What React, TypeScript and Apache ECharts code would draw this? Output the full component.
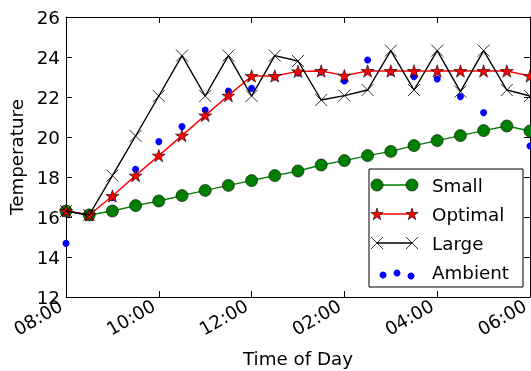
import React, { useEffect, useRef } from "react";
import * as echarts from "echarts";

const times = [
  "08:00", "08:30", "09:00", "09:30", "10:00", "10:30", "11:00", "11:30",
  "12:00", "12:30", "13:00", "13:30", "14:00", "14:30", "15:00", "15:30",
  "16:00", "16:30", "17:00", "17:30", "18:00",
];
const small = [16.3, 16.1, 16.3, 16.57, 16.8, 17.07, 17.33, 17.58, 17.82, 18.07, 18.3, 18.6, 18.82, 19.07, 19.28, 19.57, 19.82, 20.07, 20.32, 20.55, 20.3];
const optimal = [16.3, 16.1, 17.05, 18.07, 19.07, 20.07, 21.08, 22.07, 23.05, 23.05, 23.28, 23.3, 23.07, 23.3, 23.3, 23.3, 23.3, 23.3, 23.3, 23.3, 23.05];
const large = [16.3, 16.1, 18.07, 20.05, 22.05, 24.07, 22.05, 24.07, 22.05, 24.07, 23.8, 21.85, 22.07, 22.35, 24.32, 22.35, 24.32, 22.27, 24.32, 22.35, 22.05];
const ambient = [14.68, 16.1, 16.98, 18.38, 19.77, 20.52, 21.35, 22.3, 22.43, 23.0, 23.2, 23.25, 22.8, 23.85, 23.25, 23.02, 22.9, 22.02, 21.22, 20.48, 19.55];
const xTickLabels = ["08:00", "10:00", "12:00", "02:00", "04:00", "06:00"];
const seriesNames = ["Small", "Optimal", "Large", "Ambient"];

const FONT = "DejaVu Sans";
const FS = 18.3;

function toMinutes(t: string): number {
  const [h, m] = t.split(":").map(Number);
  return (h - 8) * 60 + m;
}
function pairs(vals: number[]) {
  return vals.map((v, i) => [toMinutes(times[i]), v]);
}

const STAR_PATH =
  "path://M100,0L122.45,69.1L195.1,69.1L136.3,111.8L158.8,180.9L100,138.2L41.2,180.9L63.7,111.8L4.9,69.1L77.55,69.1Z";
const X_PATH = "path://M0,0L10,10M0,10L10,0";

function starPoints(cx: number, cy: number, r: number): number[][] {
  const pts: number[][] = [];
  for (let k = 0; k < 10; k++) {
    const rr = k % 2 === 0 ? r : r * 0.382;
    const a = ((-90 + 36 * k) * Math.PI) / 180;
    pts.push([cx + rr * Math.cos(a), cy + rr * Math.sin(a)]);
  }
  return pts;
}

export default function App() {
  const ref = useRef<HTMLDivElement>(null);
  useEffect(() => {
    if (!ref.current) return;
    const chart = echarts.init(ref.current, null, { renderer: "svg" });

    const lx = 369, ly = 169, lw = 154, lh = 118;
    const rows = [185, 214, 243, 272];
    const x1 = 377, x2 = 412, tx = 432;
    const legendChildren: any[] = [
      { type: "rect", shape: { x: lx, y: ly, width: lw, height: lh }, style: { fill: "#fff", stroke: "#000", lineWidth: 1 } },
      // Small
      { type: "line", shape: { x1, y1: rows[0], x2, y2: rows[0] }, style: { stroke: "#008000", lineWidth: 1.4 } },
      { type: "circle", shape: { cx: x1, cy: rows[0], r: 6 }, style: { fill: "#008000", stroke: "#000", lineWidth: 0.6 } },
      { type: "circle", shape: { cx: x2, cy: rows[0], r: 6 }, style: { fill: "#008000", stroke: "#000", lineWidth: 0.6 } },
      // Optimal
      { type: "line", shape: { x1, y1: rows[1], x2, y2: rows[1] }, style: { stroke: "#ff0000", lineWidth: 1.4 } },
      { type: "polygon", shape: { points: starPoints(x1, rows[1] + 0.5, 6.5) }, style: { fill: "#ff0000", stroke: "#000", lineWidth: 0.6 } },
      { type: "polygon", shape: { points: starPoints(x2, rows[1] + 0.5, 6.5) }, style: { fill: "#ff0000", stroke: "#000", lineWidth: 0.6 } },
      // Large
      { type: "line", shape: { x1, y1: rows[2], x2, y2: rows[2] }, style: { stroke: "#000", lineWidth: 1.4 } },
      ...[x1, x2].flatMap((cx) => [
        { type: "line", shape: { x1: cx - 6, y1: rows[2] - 6, x2: cx + 6, y2: rows[2] + 6 }, style: { stroke: "#000", lineWidth: 0.8 } },
        { type: "line", shape: { x1: cx - 6, y1: rows[2] + 6, x2: cx + 6, y2: rows[2] - 6 }, style: { stroke: "#000", lineWidth: 0.8 } },
      ]),
      // Ambient
      { type: "circle", shape: { cx: 383, cy: rows[3] + 3, r: 3.5 }, style: { fill: "#0000ff" } },
      { type: "circle", shape: { cx: 397, cy: rows[3] + 1, r: 3.5 }, style: { fill: "#0000ff" } },
      { type: "circle", shape: { cx: 411, cy: rows[3] + 4, r: 3.5 }, style: { fill: "#0000ff" } },
      ...seriesNames.map((n, i) => ({
        type: "text",
        x: tx,
        y: rows[i],
        style: { text: n, fill: "#000", font: `${FS}px "${FONT}"`, verticalAlign: "middle" },
      })),
    ];

    const tickStyle = { show: true, inside: true, length: 6, lineStyle: { color: "#000", width: 1 } };
    const axisLine = { show: true, onZero: false, lineStyle: { color: "#000", width: 1 } };

    chart.setOption({
      animation: false,
      grid: { left: 66, right: 1, top: 17, bottom: 74, containLabel: false, outerBoundsMode: "none" },
      xAxis: [
        {
          type: "value",
          min: 0,
          max: 600,
          interval: 120,
          axisLine,
          axisTick: tickStyle,
          splitLine: { show: false },
          axisLabel: {
            rotate: 30,
            margin: 4,
            padding: [0, 6, 0, 0],
            color: "#000",
            fontFamily: FONT,
            fontSize: FS,
            formatter: (v: number) => xTickLabels[Math.round(v / 120)] ?? "",
          },
          name: "Time of Day",
          nameLocation: "middle",
          nameGap: 52,
          nameTextStyle: { color: "#000", fontFamily: FONT, fontSize: FS },
        },
        {
          type: "value",
          position: "top",
          min: 0,
          max: 600,
          interval: 120,
          axisLine,
          axisTick: tickStyle,
          splitLine: { show: false },
          axisLabel: { show: false },
        },
      ],
      yAxis: [
        {
          type: "value",
          min: 12,
          max: 26,
          interval: 2,
          axisLine,
          axisTick: tickStyle,
          splitLine: { show: false },
          axisLabel: { color: "#000", fontFamily: FONT, fontSize: FS, margin: 6 },
          name: "Temperature",
          nameLocation: "middle",
          nameRotate: 90,
          nameGap: 38,
          nameTextStyle: { color: "#000", fontFamily: FONT, fontSize: FS },
        },
        {
          type: "value",
          position: "right",
          min: 12,
          max: 26,
          interval: 2,
          axisLine,
          axisTick: tickStyle,
          splitLine: { show: false },
          axisLabel: { show: false },
        },
      ],
      series: [
        {
          name: "Ambient",
          type: "scatter",
          data: pairs(ambient),
          symbol: "circle",
          symbolSize: 7,
          itemStyle: { color: "#0000ff", opacity: 1 },
          z: 1,
          silent: true,
        },
        {
          name: "Small",
          type: "line",
          data: pairs(small),
          symbol: "circle",
          symbolSize: 12,
          showAllSymbol: true,
          lineStyle: { color: "#008000", width: 1.4 },
          itemStyle: { color: "#008000", borderColor: "#000", borderWidth: 0.6 },
          z: 2,
          silent: true,
        },
        {
          name: "Optimal",
          type: "line",
          data: pairs(optimal),
          symbol: STAR_PATH,
          symbolKeepAspect: true,
          symbolSize: 13,
          showAllSymbol: true,
          lineStyle: { color: "#ff0000", width: 1.4 },
          itemStyle: { color: "#ff0000", borderColor: "#000", borderWidth: 0.6 },
          z: 3,
          silent: true,
        },
        {
          name: "Large",
          type: "line",
          data: pairs(large),
          symbol: X_PATH,
          symbolSize: 12,
          showAllSymbol: true,
          lineStyle: { color: "#000", width: 1.4 },
          itemStyle: { color: "none", borderColor: "#000", borderWidth: 0.8 },
          z: 4,
          silent: true,
        },
      ],
      graphic: [{ type: "group", z: 100, children: legendChildren }],
    });
    return () => chart.dispose();
  }, []);
  return <div ref={ref} style={{ position: "fixed", left: 0, top: 0, width: 531, height: 371 }} />;
}
